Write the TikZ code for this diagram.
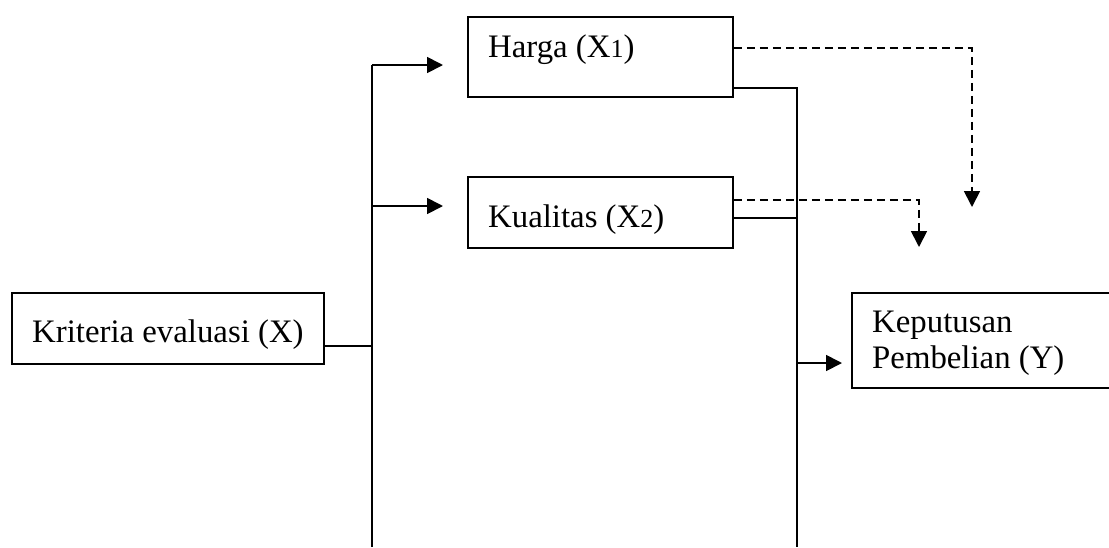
\documentclass[tikz,border=0pt]{standalone}
\usepackage{fontspec}
\setmainfont{Liberation Serif}
\usetikzlibrary{arrows.meta}
\newcommand{\smalldigit}[1]{{\fontsize{26}{26}\selectfont #1}}
\begin{document}
\begin{tikzpicture}[x=1pt,y=-1pt,
  box/.style={draw,line width=1.8pt,anchor=north west,inner sep=0pt},
  lbl/.style={anchor=base west,inner sep=0pt,font=\fontsize{32.8}{36}\selectfont},
  wire/.style={line width=1.8pt},
  dwire/.style={line width=1.8pt,dash pattern=on 8pt off 5pt},
  tip/.style={-{Triangle[length=16pt,width=16pt]}}]
  \useasboundingbox (0,0) rectangle (1109,547);
  \clip (0,0) rectangle (1109,547);

  % boxes
  \node[box,minimum width=312pt,minimum height=71pt] (krit) at (11,292) {};
  \node[box,minimum width=265pt,minimum height=80pt] (harga) at (467,16) {};
  \node[box,minimum width=265pt,minimum height=71pt] (kual) at (467,176) {};
  \node[box,minimum width=280pt,minimum height=95pt] (kep) at (851,292) {};

  % labels
  \node[lbl] (tkrit) at (32,342) {Kriteria evaluasi (X)};
  \node[lbl] (tharga) at (488,57) {Harga (X\smalldigit{1})};
  \node[lbl] (tkual) at (488,227) {Kualitas (X\smalldigit{2})};
  \node[lbl] (tkep1) at (872,332) {Keputusan};
  \node[lbl] (tkep2) at (872,368) {Pembelian (Y)};

  % left bus
  \coordinate (lbTop) at (372,65);
  \coordinate (lbMid) at (372,206);
  \coordinate (lbJoin) at (372,346);
  \coordinate (lbBot) at (372,547);
  \draw[wire] (krit.east |- lbJoin) -- (lbJoin);
  \draw[wire] (lbBot) -- (lbTop);
  \draw[wire,tip,shorten >=24pt] (lbTop) -- (harga.west |- lbTop);
  \draw[wire,tip,shorten >=24pt] (lbMid) -- (kual.west |- lbMid);

  % right bus
  \coordinate (rbTop) at (797,88);
  \coordinate (rbMid) at (797,218);
  \coordinate (rbOut) at (797,363);
  \coordinate (rbBot) at (797,547);
  \draw[wire] (harga.east |- rbTop) -- (rbTop) -- (rbBot);
  \draw[wire] (kual.east |- rbMid) -- (rbMid);
  \draw[wire,tip,shorten >=9pt] (rbOut) -- (kep.west |- rbOut);

  % dashed links
  \coordinate (dh) at (972,48);
  \coordinate (dhEnd) at (972,207);
  \coordinate (dk) at (919,200);
  \coordinate (dkEnd) at (919,247);
  \draw[dwire,tip] (harga.east |- dh) -- (dh) -- (dhEnd);
  \draw[dwire,tip] (kual.east |- dk) -- (dk) -- (dkEnd);
\end{tikzpicture}
\end{document}
